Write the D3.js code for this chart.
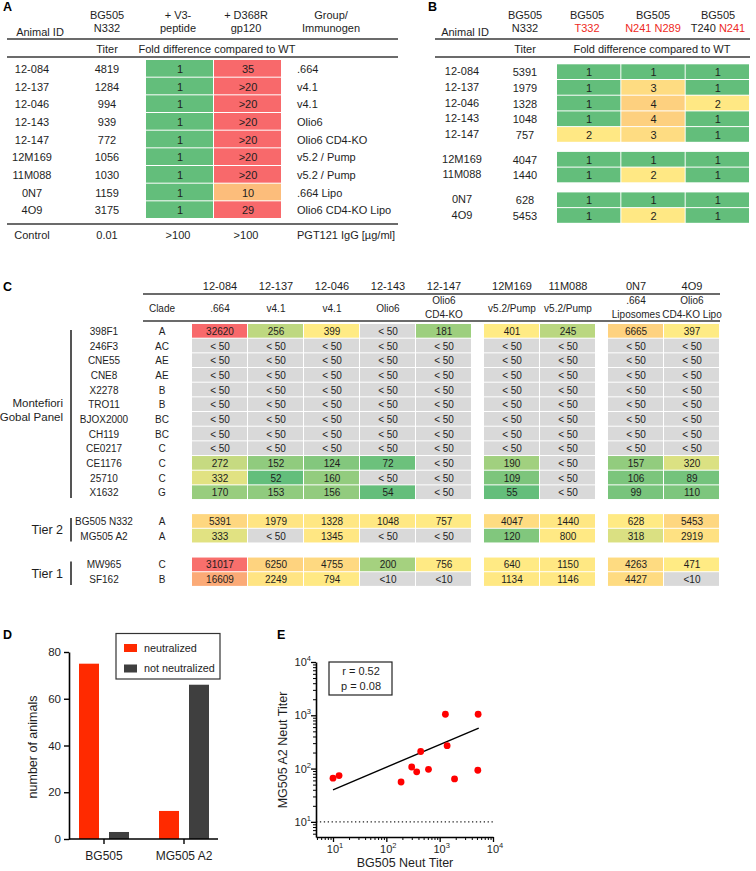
<!DOCTYPE html>
<html><head><meta charset="utf-8">
<script src="https://cdn.jsdelivr.net/npm/d3@7"></script>
<style>body{margin:0;background:#fff}svg{display:block;font-family:"Liberation Sans",Arial,Helvetica,sans-serif}</style>
</head><body><svg id="c" width="756" height="871"></svg>
<script>
// ---------- Panel A data ----------
const aAnimals = ["12-084","12-137","12-046","12-143","12-147","12M169","11M088","0N7","4O9"];
const aTiter = ["4819","1284","994","939","772","1056","1030","1159","3175"];
const aV3 = ["1","1","1","1","1","1","1","1","1"];
const aD368R = ["35",">20",">20",">20",">20",">20",">20","10","29"];
const aGroup = [".664","v4.1","v4.1","Olio6","Olio6 CD4-KO","v5.2 / Pump","v5.2 / Pump",".664 Lipo","Olio6 CD4-KO Lipo"];
const aControl = ["Control","0.01",">100",">100","PGT121 IgG [µg/ml]"];

// ---------- Panel B data ----------
const bAnimals = ["12-084","12-137","12-046","12-143","12-147","12M169","11M088","0N7","4O9"];
const bGroupIdx = [0,0,0,0,0,1,1,2,2];
const bTiter = ["5391","1979","1328","1048","757","4047","1440","628","5453"];
const bT332 = ["1","1","1","1","2","1","1","1","1"];
const bN241N289 = ["1","3","4","4","3","1","2","1","2"];
const bT240N241 = ["1","1","2","1","1","1","1","1","1"];

// ---------- Panel C data ----------
const cCols = ["12-084","12-137","12-046","12-143","12-147","12M169","11M088","0N7","4O9"];
const cImmunogens = [[".664"],["v4.1"],["v4.1"],["Olio6"],["Olio6","CD4-KO"],["v5.2/Pump"],["v5.2/Pump"],[".664","Liposomes"],["Olio6","CD4-KO Lipo"]];
const cBlock = [0,0,0,0,0,1,1,2,2];
const cStrains = ["398F1","246F3","CNE55","CNE8","X2278","TRO11","BJOX2000","CH119","CE0217","CE1176","25710","X1632","BG505 N332","MG505 A2","MW965","SF162"];
const cClades = ["A","AC","AE","AE","B","B","BC","BC","C","C","C","G","A","A","C","B"];
const cTier = [0,0,0,0,0,0,0,0,0,0,0,0,1,1,2,2];
const cTierLabels = [["Montefiori","Gobal Panel"],["Tier 2"],["Tier 1"]];
const L = "< 50";
const cValues = [
  ["32620","256","399",L,"181","401","245","6665","397"],
  [L,L,L,L,L,L,L,L,L],
  [L,L,L,L,L,L,L,L,L],
  [L,L,L,L,L,L,L,L,L],
  [L,L,L,L,L,L,L,L,L],
  [L,L,L,L,L,L,L,L,L],
  [L,L,L,L,L,L,L,L,L],
  [L,L,L,L,L,L,L,L,L],
  [L,L,L,L,L,L,L,L,L],
  ["272","152","124","72",L,"190",L,"157","320"],
  ["332","52","160",L,L,"109",L,"106","89"],
  ["170","153","156","54",L,"55",L,"99","110"],
  ["5391","1979","1328","1048","757","4047","1440","628","5453"],
  ["333",L,"1345",L,L,"120","800","318","2919"],
  ["31017","6250","4755","200","756","640","1150","4263","471"],
  ["16609","2249","794","<10","<10","1134","1146","4427","<10"]
];

// ---------- Panel D data ----------
const dCategories = ["BG505","MG505 A2"];
const dSeries = ["neutralized","not neutralized"];
const dNeutralized = [75, 12];
const dNotNeutralized = [3, 66];
const dTicks = [0,20,40,60,80];

// ---------- Panel E data ----------
const eBG505 = [10, 13, 189, 299, 371, 441, 617, 1280, 1380, 1900, 5260, 5190];
const eMG505 = [66, 74, 56, 107, 87, 209, 97, 1045, 269, 64, 1045, 93];
const eFitX = [10, 5400];
const eFitY = [40, 575];
const eMajor = [10, 100, 1000, 10000];
const eStats = ["r = 0.52", "p = 0.08"];

// ================= drawing =================
const svg = d3.select("#c");
const TXT = "#1e1e1e";
const RULE = "#3a3a3a";
function txt(g, x, y, s, o = {}) {
  return g.append("text").attr("x", x).attr("y", y)
    .attr("text-anchor", o.anchor || "middle")
    .attr("font-size", o.size || 11)
    .attr("font-weight", o.weight || null)
    .attr("fill", o.fill || TXT).text(s);
}
function rule(g, x1, x2, y, w = 1.6) {
  g.append("line").attr("x1", x1).attr("x2", x2).attr("y1", y).attr("y2", y)
    .attr("stroke", RULE).attr("stroke-width", w);
}
const num = s => parseFloat(String(s).replace(/[^0-9.]/g, ""));

// panel letters
txt(svg, 3, 11, "A", {anchor: "start", size: 12.5, weight: "bold", fill: "#000"});
txt(svg, 428, 11, "B", {anchor: "start", size: 12.5, weight: "bold", fill: "#000"});
txt(svg, 3, 291, "C", {anchor: "start", size: 12.5, weight: "bold", fill: "#000"});
txt(svg, 3, 639, "D", {anchor: "start", size: 12.5, weight: "bold", fill: "#000"});
txt(svg, 277, 639, "E", {anchor: "start", size: 12.5, weight: "bold", fill: "#000"});

// fold colour scale (panels A, B)
const foldColor = d3.scaleLinear().domain([1, 2, 4, 10, 20])
  .range(["#63BE7B", "#FFE884", "#FDD07F", "#FCBD7B", "#F8696B"]).clamp(true);

// ---------- Panel A ----------
{
  const g = svg.append("g");
  txt(g, 40, 36, "Animal ID");
  txt(g, 107, 19, "BG505"); txt(g, 107, 32, "N332");
  txt(g, 178, 19, "+ V3-"); txt(g, 178, 32, "peptide");
  txt(g, 246, 19, "+ D368R"); txt(g, 246, 32, "gp120");
  txt(g, 331, 19, "Group/"); txt(g, 331, 32, "Immunogen");
  rule(g, 7, 398, 39);
  txt(g, 107, 53, "Titer");
  txt(g, 217, 53, "Fold difference compared to WT");
  rule(g, 7, 398, 57);
  const y = d3.scaleBand().domain(aAnimals).range([60, 219]);
  const x = d3.scaleBand().domain(["v3", "d368r"]).range([146, 282]);
  const cols = {v3: aV3, d368r: aD368R};
  aAnimals.forEach((id, i) => {
    const cy = y(id) + y.bandwidth() / 2 + 4;
    txt(g, 32, cy, id);
    txt(g, 107, cy, aTiter[i]);
    ["v3", "d368r"].forEach(k => {
      g.append("rect").attr("x", x(k)).attr("y", y(id)).attr("width", x.bandwidth() - 1)
        .attr("height", y.bandwidth() - 1).attr("fill", foldColor(num(cols[k][i])));
      txt(g, x(k) + x.bandwidth() / 2, cy, cols[k][i]);
    });
    txt(g, 297, cy, aGroup[i], {anchor: "start"});
  });
  rule(g, 7, 398, 224);
  txt(g, 32, 239, aControl[0]);
  txt(g, 107, 239, aControl[1]);
  txt(g, 178, 239, aControl[2]);
  txt(g, 246, 239, aControl[3]);
  txt(g, 297, 239, aControl[4], {anchor: "start"});
}

// ---------- Panel B ----------
{
  const g = svg.append("g");
  const RED = "#EE2A24";
  txt(g, 465, 36, "Animal ID");
  txt(g, 525, 19, "BG505"); txt(g, 525, 32, "N332");
  txt(g, 587, 19, "BG505"); txt(g, 587, 32, "T332", {fill: RED});
  txt(g, 653, 19, "BG505"); txt(g, 653, 32, "N241 N289", {fill: RED});
  txt(g, 718, 19, "BG505");
  const t = txt(g, 718, 32, "");
  t.append("tspan").text("T240 ");
  t.append("tspan").attr("fill", RED).text("N241");
  rule(g, 435, 750, 39);
  txt(g, 525, 53, "Titer");
  txt(g, 652, 53, "Fold difference compared to WT");
  rule(g, 435, 750, 57);
  const step = 15.7;
  const ySlot = d3.scaleLinear().domain([0, 1]).range([64.3, 64.3 + step]);
  const x = d3.scaleBand().domain(["t332", "n241", "t240"]).range([557, 750]);
  const cols = {t332: bT332, n241: bN241N289, t240: bT240N241};
  bAnimals.forEach((id, i) => {
    const y0 = ySlot(i + bGroupIdx[i] * 0.58);
    const cy = y0 + step / 2 + 3;
    txt(g, 462, cy, id);
    txt(g, 525, cy + 1, bTiter[i]);
    Object.keys(cols).forEach(k => {
      g.append("rect").attr("x", x(k)).attr("y", y0).attr("width", x.bandwidth() - 1)
        .attr("height", step - 1).attr("fill", foldColor(num(cols[k][i])));
      txt(g, x(k) + x.bandwidth() / 2, cy + 1, cols[k][i]);
    });
  });
}

// ---------- Panel C ----------
{
  const g = svg.append("g");
  const colW = 56, blockGap = 12;
  const xCol = j => 192 + j * colW + cBlock[j] * blockGap;
  const step = 14.67;
  const ySlot = d3.scaleLinear().domain([0, 1]).range([324, 324 + step]);
  const valColor = d3.scaleLinear().domain([52, 400, 32620])
    .range(["#63BE7B", "#FFEB84", "#F8696B"]).clamp(true);
  cCols.forEach((c, j) => {
    const cx = xCol(j) + colW / 2;
    txt(g, cx, 290, c);
    const lines = cImmunogens[j];
    if (lines.length === 1) txt(g, cx, 312, lines[0], {size: 10});
    else { txt(g, cx, 304, lines[0], {size: 10}); txt(g, cx, 318, lines[1], {size: 10}); }
  });
  rule(g, 143, 720, 294);
  txt(g, 162, 312, "Clade", {size: 10});
  rule(g, 143, 720, 321);
  cStrains.forEach((s, i) => {
    const y0 = ySlot(i + cTier[i] * 0.96);
    const cy = y0 + step / 2 + 3.5;
    txt(g, 104, cy, s, {size: 10});
    txt(g, 162, cy, cClades[i], {size: 10});
    cValues[i].forEach((v, j) => {
      const n = v.includes("<") ? null : +v;
      g.append("rect").attr("x", xCol(j)).attr("y", y0).attr("width", colW - 1)
        .attr("height", step - 1).attr("fill", n === null ? "#D9D9D9" : valColor(n));
      txt(g, xCol(j) + colW / 2, cy, v, {size: 10});
    });
  });
  // tier brackets
  cTierLabels.forEach((lab, t) => {
    const idx = cTier.map((d, i) => d === t ? i : -1).filter(i => i >= 0);
    const yTop = ySlot(idx[0] + t * 0.96) + (t === 0 ? 6 : 4);
    const yBot = ySlot(idx[idx.length - 1] + t * 0.96) + step - 2;
    g.append("line").attr("x1", 71).attr("x2", 71).attr("y1", yTop).attr("y2", yBot)
      .attr("stroke", "#555").attr("stroke-width", 2);
    const mid = (yTop + yBot) / 2;
    if (lab.length === 2) {
      txt(g, 63, mid - 7, lab[0], {anchor: "end", size: 11.5});
      txt(g, 63, mid + 7, lab[1], {anchor: "end", size: 11.5});
    } else {
      txt(g, 63, mid + 4.5, lab[0], {anchor: "end", size: 12.5});
    }
  });
}

// ---------- Panel D ----------
{
  const g = svg.append("g");
  const y = d3.scaleLinear().domain([0, 80]).range([839, 652]);
  const x = d3.scaleBand().domain(dCategories).range([64, 224]);
  const xs = d3.scaleBand().domain(dSeries).range([-25, 25]).paddingInner(1 / 3);
  const color = d3.scaleOrdinal().domain(dSeries).range(["#FF2A00", "#3F3F3F"]);
  const vals = {"neutralized": dNeutralized, "not neutralized": dNotNeutralized};
  dCategories.forEach((c, i) => {
    dSeries.forEach(s => {
      const v = vals[s][i];
      g.append("rect").attr("x", x(c) + x.bandwidth() / 2 + xs(s)).attr("y", y(v))
        .attr("width", xs.bandwidth()).attr("height", y(0) - y(v)).attr("fill", color(s));
    });
  });
  const ya = g.append("g").attr("transform", "translate(69,0)")
    .call(d3.axisLeft(y).tickValues(dTicks).tickSize(5).tickSizeOuter(0));
  ya.select(".domain").attr("stroke-width", 1.6);
  ya.selectAll(".tick line").attr("stroke-width", 1.4);
  ya.selectAll("text").attr("font-size", 11.5).attr("fill", TXT).attr("font-family", null);
  const xa = g.append("g").attr("transform", "translate(0,839)")
    .call(d3.axisBottom(x).tickSize(5).tickSizeOuter(0));
  xa.select(".domain").attr("d", "M69,0H218").attr("stroke-width", 1.6);
  xa.selectAll(".tick line").attr("stroke-width", 1.4);
  xa.selectAll("text").attr("font-size", 12).attr("fill", TXT).attr("font-family", null).attr("dy", "1.05em");
  g.append("text").attr("transform", "translate(37,747) rotate(-90)").attr("text-anchor", "middle")
    .attr("font-size", 12.5).attr("fill", TXT).text("number of animals");
  // legend
  g.append("rect").attr("x", 116).attr("y", 633.5).attr("width", 104).attr("height", 45.5)
    .attr("fill", "#fff").attr("stroke", "#333").attr("stroke-width", 1.2);
  dSeries.forEach((s, i) => {
    g.append("rect").attr("x", 124).attr("y", 644 + i * 20.5).attr("width", 13).attr("height", 8).attr("fill", color(s));
    txt(g, 144, 651.5 + i * 20.5, s, {anchor: "start", size: 10.8});
  });
}

// ---------- Panel E ----------
{
  const g = svg.append("g");
  const x = d3.scaleLog().domain([4.8, 1e4]).range([316, 493]);
  const y = d3.scaleLog().domain([5.2, 1e4]).range([837, 662]);
  const minors = dom => {
    const out = [];
    [1, 10, 100, 1000].forEach(p => d3.range(2, 10).forEach(m => { const v = m * p; if (v >= dom[0] && v < 1e4) out.push(v); }));
    return out;
  };
  // dotted detection limit
  g.append("line").attr("x1", 316).attr("x2", 493).attr("y1", y(10)).attr("y2", y(10))
    .attr("stroke", "#222").attr("stroke-width", 1.1).attr("stroke-dasharray", "1.3,2.6");
  // fit line
  g.append("path").attr("d", d3.line().x(d => x(d[0])).y(d => y(d[1]))(eFitX.map((v, i) => [v, eFitY[i]])))
    .attr("stroke", "#000").attr("stroke-width", 1.4).attr("fill", "none");
  // points
  g.selectAll("circle.pt").data(eBG505.map((v, i) => [v, eMG505[i]])).join("circle")
    .attr("class", "pt").attr("cx", d => x(d[0])).attr("cy", d => y(d[1])).attr("r", 3.4).attr("fill", "#FF0000");
  // axes
  const styleAxis = a => { a.selectAll("line").attr("stroke-width", 1.3); a.select(".domain").attr("stroke-width", 1.6); };
  const xa = g.append("g").attr("transform", "translate(0,837)")
    .call(d3.axisBottom(x).tickValues(eMajor).tickSize(5).tickSizeOuter(0).tickFormat(""));
  styleAxis(xa);
  const xm = g.append("g").attr("transform", "translate(0,837)")
    .call(d3.axisBottom(x).tickValues(minors(x.domain())).tickSize(3).tickSizeOuter(0).tickFormat(""));
  xm.select(".domain").remove(); xm.selectAll("line").attr("stroke-width", 1);
  const ya = g.append("g").attr("transform", "translate(316,0)")
    .call(d3.axisLeft(y).tickValues(eMajor).tickSize(5).tickSizeOuter(0).tickFormat(""));
  styleAxis(ya);
  const ym = g.append("g").attr("transform", "translate(316,0)")
    .call(d3.axisLeft(y).tickValues(minors(y.domain())).tickSize(3).tickSizeOuter(0).tickFormat(""));
  ym.select(".domain").remove(); ym.selectAll("line").attr("stroke-width", 1);
  eMajor.forEach(v => {
    const e = Math.round(Math.log10(v));
    const tx = txt(g, x(v) + 2, 853, "", {size: 11});
    tx.append("tspan").text("10");
    tx.append("tspan").attr("dy", -5).attr("font-size", 7.5).text(e);
    const ty = txt(g, 311, y(v) + 4, "", {anchor: "end", size: 11});
    ty.append("tspan").text("10");
    ty.append("tspan").attr("dy", -5).attr("font-size", 7.5).text(e);
  });
  txt(g, 405, 867, "BG505 Neut Titer", {size: 12.5});
  g.append("text").attr("transform", "translate(287,750) rotate(-90)").attr("text-anchor", "middle")
    .attr("font-size", 12.5).attr("fill", TXT).text("MG505 A2 Neut Titer");
  g.append("rect").attr("x", 329).attr("y", 662).attr("width", 63).attr("height", 33)
    .attr("fill", "#fff").attr("stroke", "#222").attr("stroke-width", 1.2);
  txt(g, 361, 675, eStats[0], {size: 11});
  txt(g, 361, 690, eStats[1], {size: 11});
}
</script></body></html>
